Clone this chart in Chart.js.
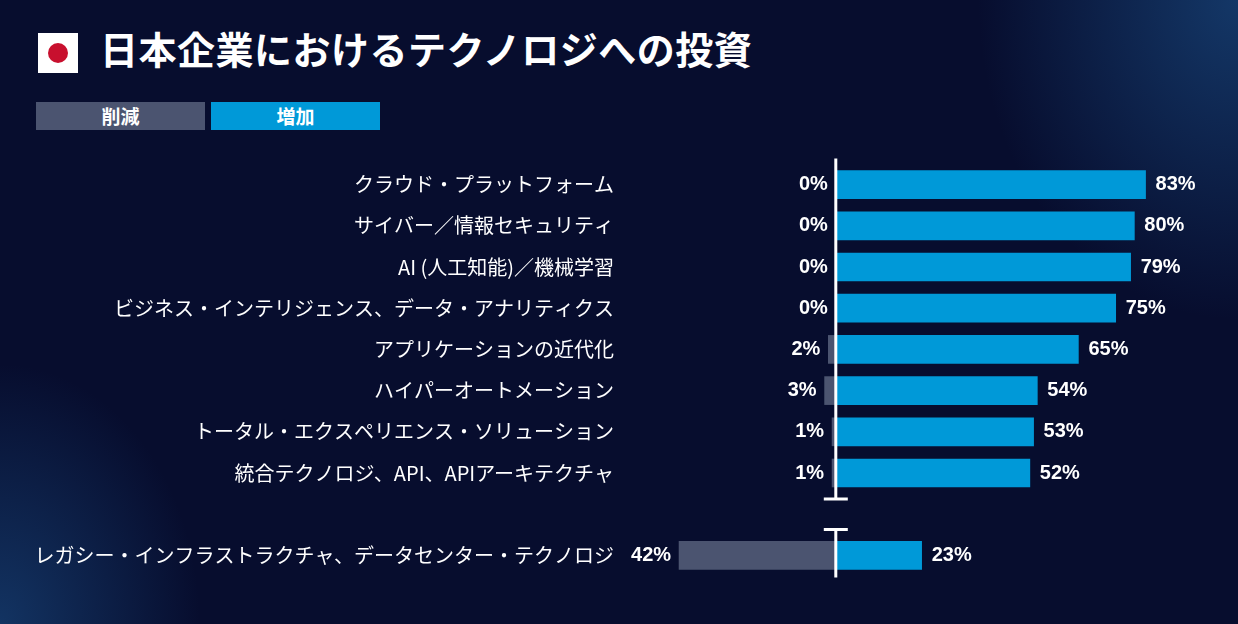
<!DOCTYPE html>
<html lang="ja">
<head>
<meta charset="UTF-8">
<script src="https://cdn.jsdelivr.net/npm/chart.js"></script>
<style>
  body { margin:0; width:1238px; height:624px; overflow:hidden;
    background:
      radial-gradient(ellipse 260px 320px at 1238px 0px, rgba(30,90,150,0.55), transparent),
      radial-gradient(ellipse 200px 260px at 0px 624px, rgba(30,90,150,0.5), transparent),
      #070d2e;
    font-family:"Noto Sans CJK JP", "Liberation Sans", sans-serif; color:#fff; position:relative; }
  .flag { position:absolute; left:38px; top:33px; width:40px; height:40px; background:#fff; }
  .flag:after { content:""; position:absolute; left:10px; top:10px; width:20px; height:20px; border-radius:50%; background:#c8102e; }
  h1 { position:absolute; left:100px; top:20px; margin:0; font-size:38px; font-weight:bold; letter-spacing:0.5px; }
  .leg { position:absolute; top:102px; width:169px; height:28px; line-height:28px; text-align:center; font-size:19px; font-weight:bold; }
  #wrap { position:absolute; left:0; top:0; width:1238px; height:624px; }
</style>
</head>
<body>
<div class="flag"></div>
<h1>日本企業におけるテクノロジへの投資</h1>
<div class="leg" style="left:36px;background:#4b5470;">削減</div>
<div class="leg" style="left:211px;background:#0099d8;">増加</div>
<div id="wrap"><canvas id="c"></canvas></div>
<script>
const categories = ['クラウド・プラットフォーム','サイバー／情報セキュリティ','AI (人工知能)／機械学習',
  'ビジネス・インテリジェンス、データ・アナリティクス','アプリケーションの近代化','ハイパーオートメーション',
  'トータル・エクスペリエンス・ソリューション','統合テクノロジ、API、APIアーキテクチャ','',
  'レガシー・インフラストラクチャ、データセンター・テクノロジ'];
const decrease = [0,0,0,0,2,3,1,1,null,42];
const increase = [83,80,79,75,65,54,53,52,null,23];

const labelPlugin = {
  id:'labels',
  afterDatasetsDraw(chart){
    const ctx = chart.ctx, x = chart.scales.x, y = chart.scales.y;
    const x0 = x.getPixelForValue(0);
    ctx.save();
    ctx.textBaseline = 'middle';
    categories.forEach((c,i)=>{
      if (increase[i] === null) return;
      const yy = y.getPixelForValue(i);
      ctx.fillStyle = '#fff';
      ctx.font = '20px "Noto Sans CJK JP", sans-serif';
      ctx.textAlign = 'right';
      ctx.fillText(c, 614, yy);
      ctx.font = 'bold 20px "Liberation Sans", sans-serif';
      ctx.fillText(decrease[i] + '%', x.getPixelForValue(-decrease[i]) - 8, yy);
      ctx.textAlign = 'left';
      ctx.fillText(increase[i] + '%', x.getPixelForValue(increase[i]) + 10, yy);
    });
    // zero axis
    ctx.strokeStyle = '#fff'; ctx.lineWidth = 3;
    const top1 = y.getPixelForValue(0) - 26, bot1 = y.getPixelForValue(7) + 26;
    const top2 = y.getPixelForValue(9) - 26, bot2 = y.getPixelForValue(9) + 22;
    ctx.beginPath();
    ctx.moveTo(x0, top1); ctx.lineTo(x0, bot1);
    ctx.moveTo(x0 - 12, bot1); ctx.lineTo(x0 + 12, bot1);
    ctx.moveTo(x0, top2); ctx.lineTo(x0, bot2);
    ctx.moveTo(x0 - 12, top2); ctx.lineTo(x0 + 12, top2);
    ctx.stroke();
    ctx.restore();
  }
};

new Chart(document.getElementById('c'), {
  type:'bar',
  data:{
    labels: categories,
    datasets:[
      { label:'削減', data: decrease.map(v => v === null ? null : -v), backgroundColor:'#4b5470', barThickness:28 },
      { label:'増加', data: increase, backgroundColor:'#0099d8', barThickness:28 }
    ]
  },
  options:{
    indexAxis:'y', responsive:true, maintainAspectRatio:false, animation:false,
    layout:{ padding:{ left:276, right:29, top:164, bottom:48 } },
    scales:{
      x:{ stacked:true, min:-150, max:100, display:false },
      y:{ stacked:true, display:false }
    },
    plugins:{ legend:{ display:false }, tooltip:{ enabled:false } }
  },
  plugins:[labelPlugin]
});
</script>
</body>
</html>
